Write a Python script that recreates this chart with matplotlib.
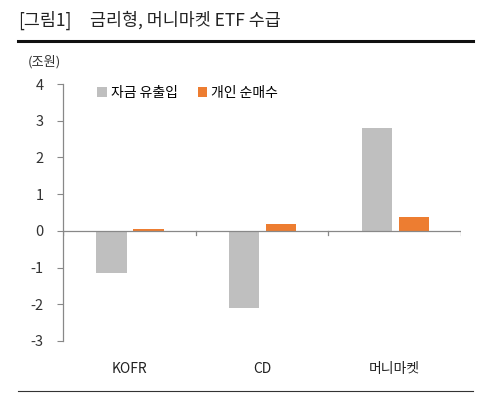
import numpy as np
import matplotlib.pyplot as plt
from matplotlib.lines import Line2D

plt.rcParams['font.family'] = ['Noto Sans CJK KR', 'DejaVu Sans']

categories = ["KOFR", "CD", "머니마켓"]
fund_flow = [-1.15, -2.1, 2.8]
retail_net_buy = [0.04, 0.2, 0.38]
series_labels = ["자금 유출입", "개인 순매수"]
yticks = [4, 3, 2, 1, 0, -1, -2, -3]

W, H = 500, 397
fig = plt.figure(figsize=(W / 100, H / 100), dpi=100)

# axes in pixel coords: left 63, right 461, top 84 (y=4), bottom 341 (y=-3)
ax = fig.add_axes([63 / W, 1 - 341 / H, (461 - 63) / W, (341 - 84) / H])

x = np.arange(len(categories))
w = 0.23
ax.bar(x - 0.135, fund_flow, width=w, color="#BFBFBF", label=series_labels[0], zorder=2)
ax.bar(x + 0.145, retail_net_buy, width=w, color="#ED7D31", label=series_labels[1], zorder=2)

ax.set_xlim(-0.5, 2.5)
ax.set_ylim(-3, 4)
ax.set_yticks(yticks)
ax.set_yticklabels([str(v) for v in yticks], fontsize=10.5, color="#333333")
ax.tick_params(axis="y", direction="out", length=4, color="#888888", pad=10)

# category axis drawn at y=0, labels below the plot
ax.set_xticks([])
ax.axhline(0, color="#888888", lw=0.9, zorder=3)
for xt in [-0.5, 0.5, 1.5, 2.5]:
    ax.plot([xt, xt], [0, -0.1], color="#888888", lw=0.9, zorder=3)
for xi, c in zip(x, categories):
    ax.text(xi, -3.75, c, ha="center", va="center", fontsize=10, color="#222222")

for s in ["top", "right", "bottom"]:
    ax.spines[s].set_visible(False)
ax.spines["left"].set_color("#888888")
ax.spines["left"].set_linewidth(0.9)

fig.text(28 / W, 1 - 62 / H, "(조원)", fontsize=9.5, color="#333333", ha="left", va="center")

ax.legend(loc="upper left", bbox_to_anchor=(0.055, 1.04), ncol=2, frameon=False,
          fontsize=10, handlelength=0.7, handleheight=0.7, handletextpad=0.3,
          columnspacing=1.4)

# header
fig.text(18 / W, 1 - 20 / H, "[그림1]", fontsize=12.5, color="#222222", ha="left", va="center")
fig.text(90 / W, 1 - 20 / H, "금리형, 머니마켓 ETF 수급", fontsize=12.5, color="#222222",
         ha="left", va="center")
fig.add_artist(Line2D([18 / W, 473 / W], [1 - 41 / H, 1 - 41 / H], color="#111111", lw=2.2))
fig.add_artist(Line2D([18 / W, 473 / W], [1 - 391 / H, 1 - 391 / H], color="#333333", lw=0.8))

plt.savefig("out.png", dpi=100)
plt.close()
